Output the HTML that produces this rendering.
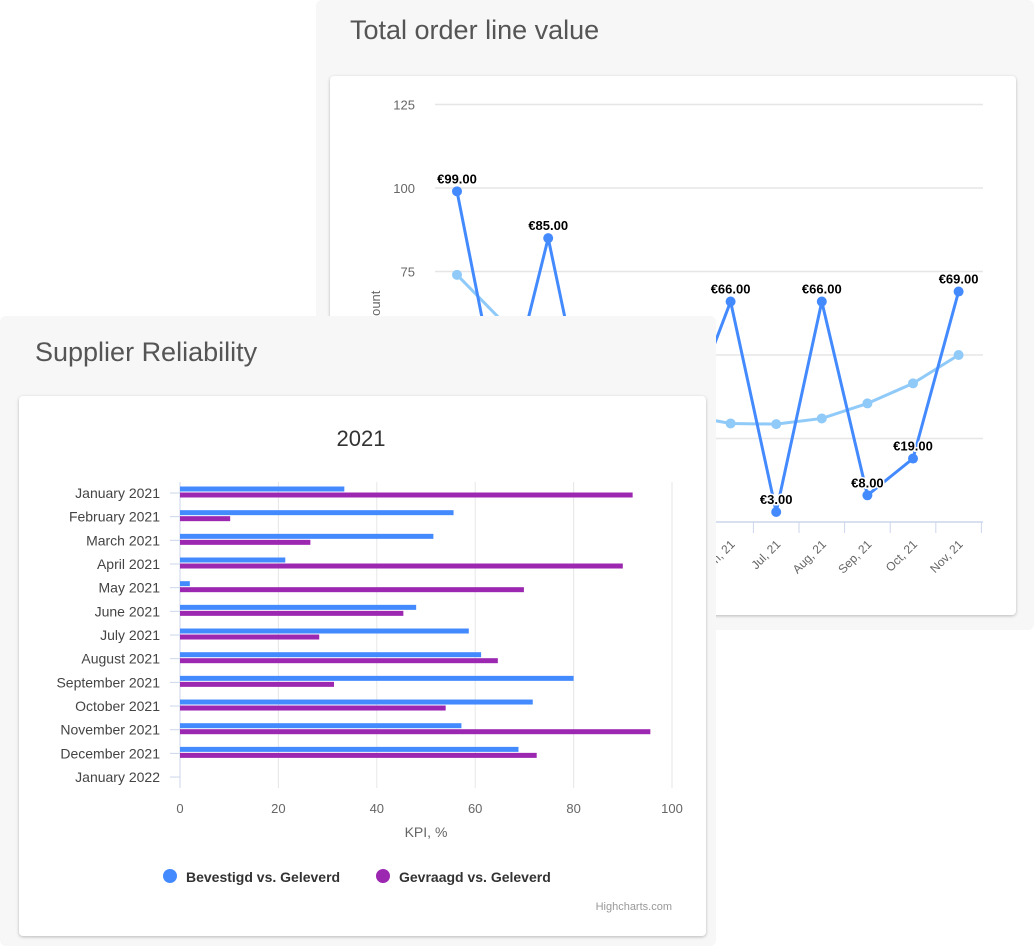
<!DOCTYPE html>
<html><head><meta charset="utf-8"><style>
body{margin:0;width:1034px;height:946px;background:#fff;position:relative;overflow:hidden;font-family:"Liberation Sans",sans-serif}
.panel{position:absolute;background:#f7f7f7;border-radius:6px}
.card{position:absolute;background:#fff;border-radius:4px;box-shadow:0 1px 3px rgba(0,0,0,.25)}
.ptitle{position:absolute;font-size:27px;color:#555}
svg{position:absolute;left:0;top:0}
</style></head><body>
<div class="panel" style="left:316px;top:0;width:718px;height:630px">
<div class="ptitle" style="left:34px;top:15px">Total order line value</div>
<div class="card" style="left:14px;top:76px;width:686px;height:539px"></div>
</div>
<svg width="1034" height="946" id="back"></svg>
<div class="panel" style="left:0;top:316px;width:716px;height:630px">
<div class="ptitle" style="left:35px;top:21px">Supplier Reliability</div>
<div class="card" style="left:19px;top:80px;width:687px;height:540px"></div>
</div>
<svg width="1034" height="946" id="front"></svg>
<script>
const lineCats=["Dec, 20","Jan, 21","Feb, 21","Mar, 21","Apr, 21","May, 21","Jun, 21","Jul, 21","Aug, 21","Sep, 21","Oct, 21","Nov, 21"];
const orderValues=[99,30,85,20,25,30,66,3,66,8,19,69];
const trendValues=[74,60,50,42,36,32,29.5,29.3,31,35.5,41.5,50];
const yTicks=[0,25,50,75,100,125];
const barCats=["January 2021","February 2021","March 2021","April 2021","May 2021","June 2021","July 2021","August 2021","September 2021","October 2021","November 2021","December 2021","January 2022"];
const confirmed=[33.4,55.6,51.5,21.4,2,48,58.7,61.2,80,71.7,57.2,68.8];
const requested=[92,10.2,26.5,90,69.9,45.4,28.3,64.6,31.3,54,95.6,72.5];
const xTicks=[0,20,40,60,80,100];
const NS="http://www.w3.org/2000/svg";
function mk(p,t,a,txt){const e=document.createElementNS(NS,t);for(const k in a)e.setAttribute(k,a[k]);if(txt!==undefined)e.textContent=txt;p.appendChild(e);return e;}
// back chart
const B=document.getElementById('back');
const by=v=>522-v*3.34, bx=i=>457+i*45.6;
yTicks.forEach(t=>{if(t>0){const g=mk(B,'line',{x1:435,x2:983,y1:by(t),y2:by(t),stroke:'#e6e6e6','stroke-width':1.5});}
const l=mk(B,'text',{x:415,y:by(t)+5,'text-anchor':'end','font-size':13,fill:'#666'},t);});
const yt=mk(B,'text',{x:380,y:313,'text-anchor':'middle','font-size':13,fill:'#666',transform:'rotate(-90 380 313)'},'Amount');

const ax=mk(B,'line',{x1:435,x2:983,y1:522,y2:522,stroke:'#ccd6eb','stroke-width':1.5});

lineCats.forEach((c,i)=>{const tk=mk(B,'line',{x1:bx(i)+22.8,x2:bx(i)+22.8,y1:522,y2:533,stroke:'#ccd6eb'});
const l=mk(B,'text',{x:bx(i)+5,y:545,'text-anchor':'end','font-size':12,fill:'#666',transform:`rotate(-45 ${bx(i)+5} 545)`},c);});
let p=mk(B,'path',{d:trendValues.map((v,i)=>(i?'L':'M')+bx(i)+' '+by(v)).join(''),fill:'none',stroke:'#90caf9','stroke-width':3});

trendValues.forEach((v,i)=>{const c=mk(B,'circle',{cx:bx(i),cy:by(v),r:5,fill:'#90caf9'});});
p=mk(B,'path',{d:orderValues.map((v,i)=>(i?'L':'M')+bx(i)+' '+by(v)).join(''),fill:'none',stroke:'#448aff','stroke-width':3});

orderValues.forEach((v,i)=>{const c=mk(B,'circle',{cx:bx(i),cy:by(v),r:5,fill:'#448aff'});
const l=mk(B,'text',{x:bx(i),y:by(v)-8,'text-anchor':'middle','font-size':13,'font-weight':'bold',fill:'#000',stroke:'#fff','stroke-width':3,'paint-order':'stroke'},'€'+v.toFixed(2));});
// front chart
const F=document.getElementById('front');
const fx=v=>180+v*4.92, fy=i=>493+i*23.67;
const t=mk(F,'text',{x:361,y:446,'text-anchor':'middle','font-size':22,fill:'#333'},'2021');
xTicks.forEach(v=>{const g=mk(F,'line',{x1:fx(v),x2:fx(v),y1:482,y2:788,stroke:v?'#e6e6e6':'#ccd6eb'});
const l=mk(F,'text',{x:fx(v),y:813,'text-anchor':'middle','font-size':13,fill:'#666'},v);});
barCats.forEach((c,i)=>{const tk=mk(F,'line',{x1:170,x2:180,y1:fy(i),y2:fy(i),stroke:'#ccd6eb'});
const l=mk(F,'text',{x:160,y:fy(i)+5,'text-anchor':'end','font-size':14,fill:'#444'},c);});
confirmed.forEach((v,i)=>{const r=mk(F,'rect',{x:180,y:fy(i)-6.5,width:fx(v)-180,height:5,fill:'#448aff'});});
requested.forEach((v,i)=>{const r=mk(F,'rect',{x:180,y:fy(i)-0.5,width:fx(v)-180,height:5,fill:'#9c27b0'});});
const xt=mk(F,'text',{x:426,y:837,'text-anchor':'middle','font-size':14,fill:'#666'},'KPI, %');
[[170,'#448aff','Bevestigd vs. Geleverd'],[383,'#9c27b0','Gevraagd vs. Geleverd']].forEach(([x,c,s])=>{const g=mk(F,'g',{});
mk(g,'circle',{cx:x,cy:876,r:7,fill:c});mk(g,'text',{x:x+16,y:882,'font-size':14,'font-weight':'bold',fill:'#333'},s);});
const hc=mk(F,'text',{x:672,y:910,'text-anchor':'end','font-size':11,fill:'#999'},'Highcharts.com');
</script>
</body></html>
